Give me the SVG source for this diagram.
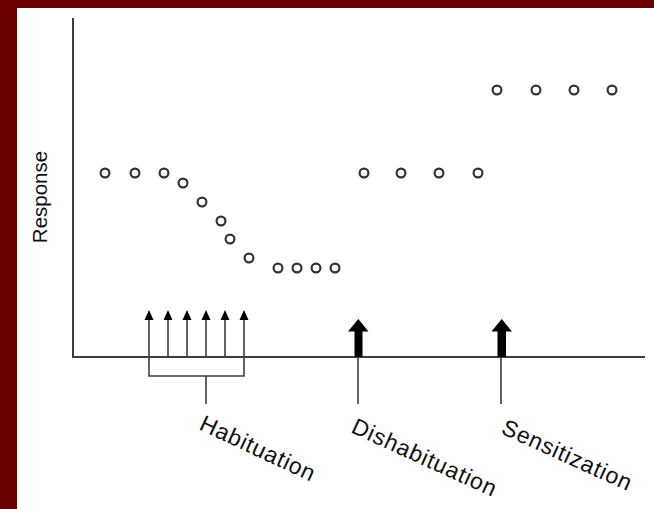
<svg xmlns="http://www.w3.org/2000/svg" width="654" height="509" viewBox="0 0 654 509">
<style>
.ax{stroke:#3c3c3c;stroke-width:2;fill:none}
.ln{stroke:#3c3c3c;stroke-width:1.6;fill:none}
.pt{fill:none;stroke:#333;stroke-width:2.2}
.lbl{font-family:"Liberation Sans",Arial,sans-serif;font-size:23px;fill:#111;letter-spacing:0.8px}
.big{fill:#000}
.hd{fill:#000}
</style>
<rect x="0" y="0" width="654" height="509" fill="#6b0000"/>
<rect x="17" y="8" width="637" height="501" fill="#fff"/>
<g id="axes">
<line class="ax" x1="73" y1="18" x2="73" y2="357"/>
<line class="ax" x1="72" y1="357" x2="645" y2="357"/>
<text x="47" y="197" transform="rotate(-90 47 197)" text-anchor="middle" font-family="Liberation Sans, Arial, sans-serif" font-size="20.5" fill="#111">Response</text>
</g>
<g id="points">
<circle class="pt" cx="105" cy="173" r="4.4"/>
<circle class="pt" cx="135" cy="173" r="4.4"/>
<circle class="pt" cx="164" cy="173" r="4.4"/>
<circle class="pt" cx="183" cy="183" r="4.4"/>
<circle class="pt" cx="202" cy="202" r="4.4"/>
<circle class="pt" cx="221" cy="221" r="4.4"/>
<circle class="pt" cx="230" cy="239" r="4.4"/>
<circle class="pt" cx="249" cy="258" r="4.4"/>
<circle class="pt" cx="278" cy="268" r="4.4"/>
<circle class="pt" cx="297" cy="268" r="4.4"/>
<circle class="pt" cx="316" cy="268" r="4.4"/>
<circle class="pt" cx="335" cy="268" r="4.4"/>
<circle class="pt" cx="364" cy="173" r="4.4"/>
<circle class="pt" cx="401" cy="173" r="4.4"/>
<circle class="pt" cx="439" cy="173" r="4.4"/>
<circle class="pt" cx="478" cy="173" r="4.4"/>
<circle class="pt" cx="497" cy="90" r="4.4"/>
<circle class="pt" cx="536" cy="90" r="4.4"/>
<circle class="pt" cx="574" cy="90" r="4.4"/>
<circle class="pt" cx="612" cy="90" r="4.4"/>
</g>
<g id="connectors">
<path class="ln" d="M149 318V376H244V318M168 318V357M187 318V357M206 318V357M225 318V357M206 376V404"/>
<path class="hd" d="M144.5 320L149 310L153.5 320ZM163.5 320L168 310L172.5 320ZM182.5 320L187 310L191.5 320ZM201.5 320L206 310L210.5 320ZM220.5 320L225 310L229.5 320ZM239.5 320L244 310L248.5 320Z"/>
<line class="ln" x1="358" y1="357" x2="358" y2="404"/>
<line class="ln" x1="501" y1="357" x2="501" y2="404"/>
</g>
<g id="habituation">
<text class="lbl" transform="translate(198 429) rotate(25)">Habituation</text>
</g>
<g id="dishabituation">
<path class="big" d="M348 331.5L358.3 319L368.5 331.5H362.5V357H354.5V331.5Z"/>
<text class="lbl" transform="translate(350 432) rotate(24.5)">Dishabituation</text>
</g>
<g id="sensitization">
<path class="big" d="M491.5 331.5L501.7 319L512 331.5H506V357H497.5V331.5Z"/>
<text class="lbl" transform="translate(500 433) rotate(24.5)">Sensitization</text>
</g>
</svg>
